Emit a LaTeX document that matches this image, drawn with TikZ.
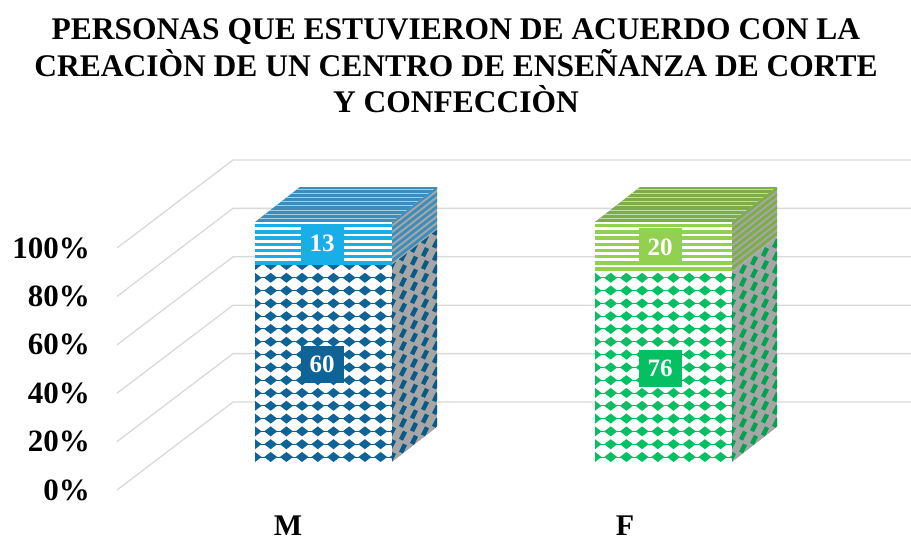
\documentclass[tikz,border=0pt]{standalone}
\usepackage{fontspec}
\setmainfont{Liberation Serif}
\usepackage{tikz}
\usetikzlibrary{positioning}

\definecolor{mdark}{HTML}{0E6496}
\definecolor{mlight}{HTML}{18AFE8}
\definecolor{mtop}{HTML}{3B8DBB}
\definecolor{mside}{HTML}{0A5A88}
\definecolor{fdark}{HTML}{05C062}
\definecolor{flight}{HTML}{92D050}
\definecolor{ftop}{HTML}{7DAD47}
\definecolor{fside}{HTML}{00A34F}
\definecolor{gridgray}{HTML}{D9D9D9}
\definecolor{sidegray}{HTML}{A6A6A6}

% one 3D bar: left x, split y, diamond colour, stripe colour, top colour, side colour
\newcommand{\barbox}[6]{%
  % front, lower part
  \begin{scope}
    \clip (#1,#2) rectangle (#1+137,462);
    \fill[white] (#1,#2) rectangle (#1+137,462);
    \foreach \j in {0,...,16}{
      \fill[#3] (#1,456.5-\j*12.8) rectangle (#1+137,457.5-\j*12.8);
      \foreach \i in {0,...,9}{
        \fill[#3] (#1+\i*15.7-6.5,457-\j*12.8) -- ++(6.5,-5) -- ++(6.5,5) -- ++(-6.5,5) -- cycle;}}
  \end{scope}
  % front, upper part
  \begin{scope}
    \clip (#1,222) rectangle (#1+137,#2);
    \fill[white] (#1,222) rectangle (#1+137,#2);
    \foreach \k in {0,...,9} \fill[#4] (#1,224+\k*6.2) rectangle (#1+137,227.4+\k*6.2);
  \end{scope}
  % top
  \begin{scope}
    \clip (#1,222) -- (#1+45,187) -- (#1+182,187) -- (#1+137,222) -- cycle;
    \fill[#5] (#1,187) rectangle (#1+182,222);
    \foreach \k in {0,...,8} \draw[white!55!#5, line width=0.9pt] (#1,189+\k*4.2) -- (#1+182,189+\k*4.2);
  \end{scope}
  % side, upper part
  \begin{scope}[shift={(#1+137,#2)}, yslant=0.778]
    \clip (0,0) rectangle (45,222-#2);
    \fill[sidegray] (0,0) rectangle (45,222-#2);
    \foreach \k in {0,...,9} \fill[#5] (0,-2-\k*6.4) rectangle (45,-5.5-\k*6.4);
  \end{scope}
  % side, lower part
  \begin{scope}[shift={(#1+137,462)}, yslant=0.778]
    \clip (0,0) rectangle (45,#2-462);
    \fill[sidegray] (0,0) rectangle (45,#2-462);
    \foreach \i in {0,...,4}{\foreach \j in {0,...,16}{
      \fill[#6] (\i*11-4,-5-\j*12.8) -- ++(4,-5) -- ++(4,5) -- ++(-4,5) -- cycle;}}
  \end{scope}
}

\begin{document}
\begin{tikzpicture}[x=1pt, y=-1pt,
  gridline/.style={draw=gridgray, line width=1.3pt},
  axislabel/.style={anchor=east, inner sep=0pt, font=\fontsize{31}{31}\selectfont\bfseries},
  catlabel/.style={anchor=base, inner sep=0pt, font=\fontsize{30}{30}\selectfont\bfseries},
  valuebox/.style={text=white, inner sep=0pt, minimum width=43pt, minimum height=37pt,
    font=\fontsize{25}{25}\selectfont\bfseries}]
\useasboundingbox (0,0) rectangle (911,540);

\node[align=center, font=\fontsize{31.5}{36.5}\selectfont\bfseries] (TITLE) at (456,66)
{PERSONAS QUE ESTUVIERON DE ACUERDO CON LA\\CREACIÒN DE UN CENTRO DE ENSEÑANZA DE CORTE\\Y CONFECCIÒN};

\foreach \k in {0,...,5}
  \draw[gridline] (117,{490-48.4*\k}) -- (233,{402-48.4*\k}) -- (911,{402-48.4*\k});

\foreach \k/\t in {0/0\%,1/20\%,2/40\%,3/60\%,4/80\%,5/100\%}
  \node[axislabel] (TICK\k) at (90,{490-48.4*\k}) {\t};

\barbox{255}{264.7}{mdark}{mlight}{mtop}{mside}
\barbox{595}{272}{fdark}{flight}{ftop}{fside}

\node[valuebox, fill=mlight] (MHIGH) at (322,243.5) {13};
\node[valuebox, fill=mdark] (MLOW) at (322,364) {60};
\node[valuebox, fill=flight] (FHIGH) at (660,247) {20};
\node[valuebox, fill=fdark] (FLOW) at (660,368) {76};

\node[catlabel] (CATM) at (288,535) {M};
\node[catlabel] (CATF) at (625,535) {F};
\end{tikzpicture}
\end{document}
